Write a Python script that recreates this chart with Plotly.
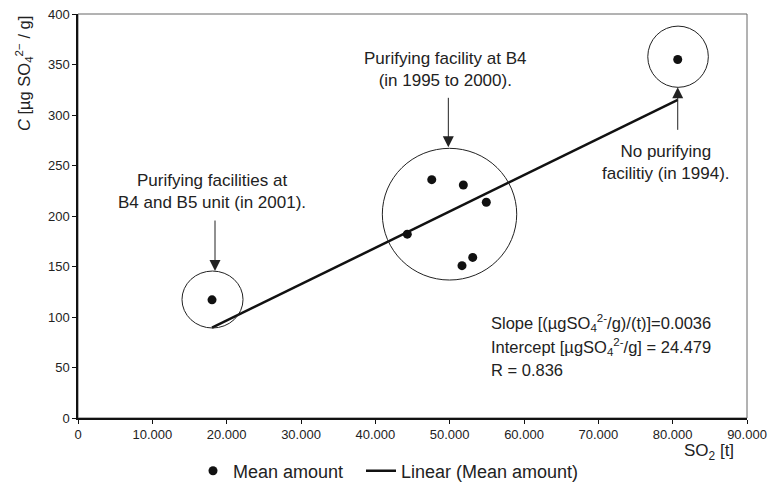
import plotly.graph_objects as go

# ---- data ----
so2_t = [18030, 47590, 51840, 54930, 44300, 53100, 51660, 80680]
conc = [117, 236, 230.7, 213.6, 182, 159, 150.8, 355]
slope = 0.0036
intercept = 24.479
r_value = 0.836
x_tick_vals = [0, 10000, 20000, 30000, 40000, 50000, 60000, 70000, 80000, 90000]
x_tick_text = ["0", "10.000", "20.000", "30.000", "40.000", "50.000",
               "60.000", "70.000", "80.000", "90.000"]
y_tick_vals = [0, 50, 100, 150, 200, 250, 300, 350, 400]

x_lo, x_hi = min(so2_t), max(so2_t)
fit_x = [x_lo, x_hi]
fit_y = [slope * v + intercept for v in fit_x]

FONT = "Arial, Liberation Sans, sans-serif"
TXT = "#222222"

fig = go.Figure()
fig.add_trace(go.Scatter(
    x=so2_t, y=conc, mode="markers", name="Mean amount",
    marker=dict(color="#111111", size=9), legend="legend",
))
fig.add_trace(go.Scatter(
    x=fit_x, y=fit_y, mode="lines", name="Linear (Mean amount)",
    line=dict(color="#111111", width=2.5), legend="legend2",
))

# group circles
circles = [
    (13990, 22200, 89.1, 145.5),
    (40940, 59020, 136.6, 267),
    (76650, 84800, 327.4, 388),
]
for x0, x1, y0, y1 in circles:
    fig.add_shape(type="circle", xref="x", yref="y", x0=x0, x1=x1, y0=y0, y1=y1,
                  line=dict(color="#222222", width=1))

# frame (top/right in grey)
fig.add_shape(type="rect", xref="paper", yref="paper", x0=0, x1=1, y0=0, y1=1,
              line=dict(color="#666666", width=1), layer="below")

ann = []
# arrows
for (x, y, ay) in [(18430, 145.5, -52), (49820, 268, -51), (80680, 327.4, 44)]:
    ann.append(dict(x=x, y=y, xref="x", yref="y", ax=0, ay=ay, text="",
                    showarrow=True, arrowhead=2, arrowsize=2.2, arrowwidth=1,
                    arrowcolor="#222222", standoff=0))
# labels
for (x, y, t) in [
    (18000, 223.8, "Purifying facilities at<br>B4 and B5 unit (in 2001)."),
    (49440, 345.5, "Purifying facility at B4<br>(in 1995 to 2000)."),
    (79040, 252.5, "No purifying<br>facilitiy (in 1994)."),
]:
    ann.append(dict(x=x, y=y, xref="x", yref="y", text=t, showarrow=False,
                    font=dict(family=FONT, size=17, color=TXT), align="center",
                    xanchor="center", yanchor="middle"))
# stats
stats = [
    "Slope [(µgSO<sub>4</sub><sup>2-</sup>/g)/(t)]=%.4f" % slope,
    "Intercept [µgSO<sub>4</sub><sup>2-</sup>/g] = %.3f" % intercept,
    "R = %.3f" % r_value,
]
for i, s in enumerate(stats):
    ann.append(dict(x=(489 - 78) / 669, y=(418 - (323 + 23.5 * i)) / 404,
                    xref="paper", yref="paper", text=s, showarrow=False,
                    font=dict(family=FONT, size=16.5, color=TXT),
                    xanchor="left", yanchor="middle"))
# axis titles
ann.append(dict(x=1 - (747 - 736) / 669, y=-(452 - 418) / 404, xref="paper", yref="paper",
                text="SO<sub>2</sub> [t]", showarrow=False,
                font=dict(family=FONT, size=17, color=TXT),
                xanchor="right", yanchor="middle"))
ann.append(dict(x=-(78 - 24) / 669, y=(418 - 74) / 404, xref="paper", yref="paper",
                text="<i>C</i> [µg SO<sub>4</sub><sup>2−</sup> / g]", showarrow=False,
                textangle=-90, font=dict(family=FONT, size=16.5, color=TXT),
                xanchor="center", yanchor="middle"))

legend_common = dict(orientation="h", xanchor="left", yanchor="middle",
                     y=-(471 - 418) / 404,
                     font=dict(family=FONT, size=18, color=TXT),
                     itemwidth=30, bgcolor="rgba(0,0,0,0)")

fig.update_layout(
    width=769, height=482,
    margin=dict(l=78, r=22, t=14, b=64, autoexpand=False),
    paper_bgcolor="white", plot_bgcolor="white",
    font=dict(family=FONT, color=TXT),
    annotations=ann,
    showlegend=True,
    legend=dict(x=(193 - 78) / 669, **legend_common),
    legend2=dict(x=(361 - 78) / 669, **legend_common),
    xaxis=dict(range=[0, 90000], tickvals=x_tick_vals, ticktext=x_tick_text,
               showgrid=False, zeroline=False, showline=True, linecolor="#111111",
               linewidth=1.5, ticks="outside", ticklen=4, tickcolor="#111111",
               automargin=False,
               tickfont=dict(family=FONT, size=13, color=TXT)),
    yaxis=dict(range=[0, 400], tickvals=y_tick_vals,
               showgrid=False, zeroline=False, showline=True, linecolor="#111111",
               linewidth=1.5, ticks="outside", ticklen=4, tickcolor="#111111",
               automargin=False,
               tickfont=dict(family=FONT, size=13, color=TXT)),
)

fig.write_html("out.html", config={"displayModeBar": False},
               post_script="document.body.style.margin='0';")
